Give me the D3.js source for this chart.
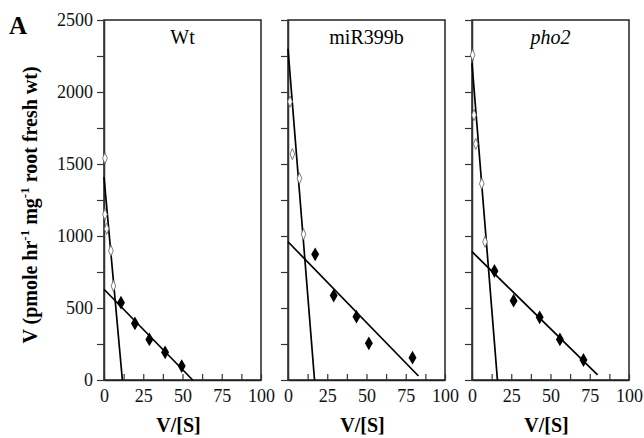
<!DOCTYPE html>
<html><head><meta charset="utf-8">
<script src="https://cdn.jsdelivr.net/npm/d3@7"></script>
<style>body{margin:0;background:#fff}svg{display:block}</style>
</head><body><svg id="c" width="644" height="438"></svg>
<script>
const panelNames = ["Wt", "miR399b", "pho2"];
const yTicks = [0, 500, 1000, 1500, 2000, 2500];
const xTicks = [0, 25, 50, 75, 100];
// high-affinity (open diamonds): [V/[S], V]
const openPts = [
  [[0.6,1540],[0.6,1150],[1.7,1050],[4.4,898],[6,653]],
  [[1.3,1933],[2.8,1569],[7.3,1400],[9.9,1012]],
  [[0.4,2257],[1.3,1840],[2.4,1639],[6.2,1363],[8.3,960]]
];
// low-affinity (filled diamonds)
const filledPts = [
  [[10.8,537],[19.7,393],[28.9,282],[38.9,192],[49.5,97]],
  [[17.3,873],[29.1,586],[43.6,440],[51.5,255],[79.3,155]],
  [[14.3,757],[26.5,551],[43.1,435],[56,282],[71,139]]
];
// fitted lines: [[x0,y0],[x1,y1]]
const highLines = [
  [[0,1410],[11.7,0]],
  [[0,2300],[16.9,0]],
  [[0,2200],[16.2,0]]
];
const lowLines = [
  [[0,630],[56.5,0]],
  [[0,960],[83.1,28]],
  [[0,891],[80,35]]
];
const panelLefts = [104, 288, 472];
const pw = 157, plotTop = 20, plotBottom = 380;
const FF = '"Liberation Serif","Times New Roman",serif';

const svg = d3.select("#c");
const y = d3.scaleLinear().domain([0,2500]).range([plotBottom, plotTop]);
const diamond = d3.symbol().type(d3.symbolDiamond);

panelNames.forEach((name, i) => {
  const L = panelLefts[i];
  const x = d3.scaleLinear().domain([0,100]).range([L, L+pw]);
  const g = svg.append("g");
  g.append("rect").attr("x", L).attr("y", plotTop).attr("width", pw).attr("height", plotBottom-plotTop)
    .attr("fill","none").attr("stroke","#222").attr("stroke-width",1.5);
  const ya = g.append("g").attr("transform", `translate(${L},0)`)
    .call(d3.axisLeft(y).tickValues(d3.range(0,2501,250)).tickSize(7).tickSizeOuter(0)
      .tickFormat(d => (i===0 && yTicks.includes(d)) ? d : ""));
  ya.attr("font-family", FF);
  ya.select(".domain").attr("stroke","#333").attr("stroke-width",1.5);
  ya.selectAll(".tick line").attr("stroke","#333").attr("stroke-width",1.2);
  ya.selectAll("text").attr("font-size",18).attr("fill","#111").attr("x",-11);
  const xa = g.append("g").attr("transform", `translate(0,${plotBottom})`)
    .call(d3.axisBottom(x).tickValues(d3.range(0,101,12.5)).tickSize(-6).tickSizeOuter(0)
      .tickFormat(d => xTicks.includes(d) ? d : ""));
  xa.attr("font-family", FF);
  xa.select(".domain").attr("stroke","#222").attr("stroke-width",1.5);
  xa.selectAll(".tick line").attr("stroke","#333").attr("stroke-width",1.2);
  xa.selectAll("text").attr("font-size",18).attr("fill","#111").attr("y",9);
  g.append("text").attr("x", L+pw/2).attr("y", 44).attr("text-anchor","middle").attr("font-family",FF)
    .attr("font-size",20).attr("font-style", i===2 ? "italic" : "normal").text(name);
  g.append("text").attr("x", L+pw/2 - 4).attr("y", 432).attr("text-anchor","middle").attr("font-family",FF)
    .attr("font-size",20).attr("font-weight","bold").text("V/[S]");
  const line = d3.line().x(d => x(d[0])).y(d => y(d[1]));
  [highLines[i], lowLines[i]].forEach(l => {
    g.append("path").attr("d", line(l)).attr("fill","none").attr("stroke","#000").attr("stroke-width",1.7);
  });
  g.selectAll(".o").data(openPts[i]).enter().append("path")
    .attr("d", diamond.size(30)())
    .attr("transform", d => `translate(${x(d[0])},${y(d[1])}) scale(0.8,1.1)`)
    .attr("fill","#fff").attr("stroke","#666").attr("stroke-width",0.9);
  g.selectAll(".f").data(filledPts[i]).enter().append("path")
    .attr("d", diamond.size(55)())
    .attr("transform", d => `translate(${x(d[0])},${y(d[1])})`)
    .attr("fill","#000");
});

svg.append("text").attr("transform","translate(37,205) rotate(-90)").attr("text-anchor","middle")
  .attr("font-family",FF).attr("font-size",20).attr("font-weight","bold")
  .html('V (pmole hr<tspan dy="-8" font-size="13">-1</tspan><tspan dy="8"> mg</tspan><tspan dy="-8" font-size="13">-1</tspan><tspan dy="8"> root fresh wt)</tspan>');
svg.append("text").attr("x", 9).attr("y", 34).attr("font-family",FF).attr("font-size",25).attr("font-weight","bold").text("A");
</script></body></html>
